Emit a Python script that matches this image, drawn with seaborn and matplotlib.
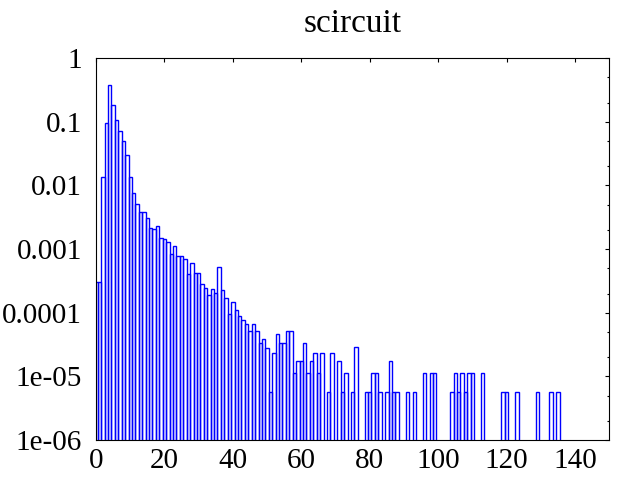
import matplotlib
matplotlib.use("Agg")
import matplotlib.pyplot as plt
import pandas as pd
import seaborn as sns
from matplotlib.ticker import FixedLocator, NullFormatter

# degree distribution of scircuit (0 = no bar)
degree = list(range(0, 136))
fraction = [
    3.1e-4, 3.1e-4, 1.37e-2, 9.4e-2, 0.376, 0.185, 0.106, 0.0715, 0.0504, 0.0301,      # 0-9
    0.0137, 7.7e-3, 5.1e-3, 3.85e-3, 3.85e-3, 3.1e-3, 2.16e-3, 2.08e-3, 2.32e-3, 1.5e-3,  # 10-19
    1.45e-3, 1.28e-3, 8.4e-4, 1.13e-3, 7.85e-4, 7.85e-4, 6.95e-4, 4.1e-4, 6.1e-4, 4.26e-4,  # 20-29
    4.26e-4, 2.86e-4, 2.47e-4, 1.92e-4, 2.39e-4, 2.07e-4, 5.28e-4, 2.3e-4, 1.73e-4, 9.7e-5,  # 30-39
    1.49e-4, 1.12e-4, 8.97e-5, 7.8e-5, 6.7e-5, 5.1e-5, 6.7e-5, 5.1e-5, 3.4e-5, 3.9e-5,  # 40-49
    2.8e-5, 5.8e-6, 2.3e-5, 4.6e-5, 3.4e-5, 3.4e-5, 5.2e-5, 5.2e-5, 1.15e-5, 1.75e-5,  # 50-59
    1.75e-5, 3.4e-5, 1.15e-5, 1.75e-5, 2.3e-5, 1.15e-5, 2.3e-5, 0, 5.8e-6, 2.3e-5,  # 60-69
    0, 1.75e-5, 5.8e-6, 1.15e-5, 0, 5.8e-6, 2.9e-5, 0, 0, 5.8e-6,  # 70-79
    5.8e-6, 1.15e-5, 1.15e-5, 5.8e-6, 0, 5.8e-6, 1.75e-5, 5.8e-6, 5.8e-6, 0,  # 80-89
    0, 5.8e-6, 0, 5.8e-6, 0, 0, 1.15e-5, 0, 1.15e-5, 1.15e-5,  # 90-99
    0, 0, 0, 0, 5.8e-6, 1.15e-5, 5.8e-6, 1.15e-5, 5.8e-6, 1.15e-5,  # 100-109
    1.15e-5, 0, 0, 1.15e-5, 0, 0, 0, 0, 0, 5.8e-6,  # 110-119
    5.8e-6, 0, 0, 5.8e-6, 0, 0, 0, 0, 0, 5.8e-6,  # 120-129
    0, 0, 0, 5.8e-6, 0, 5.8e-6,  # 130-135
]

x_ticks = [0, 20, 40, 60, 80, 100, 120, 140]
y_ticks = [1e-6, 1e-5, 1e-4, 1e-3, 1e-2, 1e-1, 1]
y_labels = ["1e-06", "1e-05", "0.0001", "0.001", "0.01", "0.1", "1"]
y_minor = [m * 10.0 ** e for e in range(-6, 0) for m in (2, 5)]

sns.set_style("white")
plt.rcParams["font.family"] = ["Liberation Serif", "DejaVu Serif"]

df = pd.DataFrame({"degree": degree, "fraction": fraction})
df = df[df["fraction"] > 0]

fig, ax = plt.subplots(figsize=(6.4, 4.8), dpi=100)
fig.subplots_adjust(left=0.15, right=0.952, bottom=0.083, top=0.879)

sns.barplot(data=df, x="degree", y="fraction", native_scale=True, fill=False,
            color="blue", saturation=1, width=1, errorbar=None, linewidth=1, ax=ax)

ax.set_yscale("log")
ax.set_xlim(0, 150)
ax.set_ylim(1e-6, 1)
ax.set_xticks(x_ticks, labels=[str(t) for t in x_ticks])
ax.set_yticks(y_ticks, labels=y_labels)
ax.yaxis.set_minor_locator(FixedLocator(y_minor))
ax.yaxis.set_minor_formatter(NullFormatter())
ax.xaxis.set_minor_locator(FixedLocator([]))

ax.tick_params(which="both", direction="in", top=True, right=True, width=0.8, colors="black")
ax.tick_params(which="major", length=3, labelsize=21)
ax.tick_params(which="minor", length=1.6)
ax.tick_params(axis="y", which="major", pad=10)
ax.tick_params(axis="x", which="major", pad=6)
for s in ax.spines.values():
    s.set_color("black")
    s.set_linewidth(0.8)

ax.set_xlabel("")
ax.set_ylabel("")
ax.set_title("scircuit", fontsize=24, pad=19, color="black")

fig.savefig("out.png", dpi=100)
